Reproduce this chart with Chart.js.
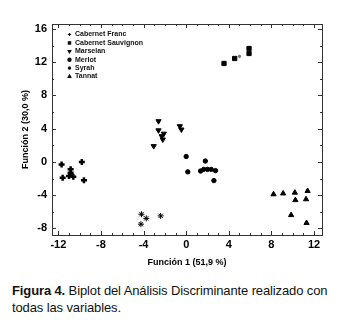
<!DOCTYPE html>
<html lang="es">
<head>
  <meta charset="UTF-8">
  <title>Biplot - Análisis Discriminante</title>
  <script src="https://cdn.jsdelivr.net/npm/chart.js"></script>
  <style>
    body { margin: 0; background: #fff; width: 339px; height: 330px; overflow: hidden; }
    .grafico { position: relative; width: 339px; height: 268px; }
    .leyenda-fig { font-family: "Liberation Sans Narrow", "Arial Narrow", Arial, sans-serif; font-size: 13px; letter-spacing: -0.12px; color: #111; margin: 14px 0 0 12px; line-height: 17px; }
  </style>
</head>
<body>
  <div class="grafico"><canvas id="biplot"></canvas></div>
  <div class="leyenda-fig"><b>Figura 4.</b> Biplot del Análisis Discriminante realizado con<br>todas las variables.</div>

  <script>
    const variedades = ['Cabernet Franc', 'Cabernet Sauvignon', 'Marselan', 'Merlot', 'Syrah', 'Tannat'];

    const cfX = [-11.7, -9.8, -10.85, -10.85, -11.6, -11.0, -10.6, -9.6];
    const cfY = [-0.3, 0.0, -0.9, -1.3, -1.9, -1.7, -1.8, -2.2];
    const csX = [3.55, 4.55, 5.9, 5.9];
    const csY = [11.85, 12.45, 13.65, 13.05];
    const maX = [-2.6, -2.6, -2.1, -2.3, -2.2, -3.05, -0.6, -0.45];
    const maY = [4.9, 3.8, 3.4, 3.1, 2.7, 1.9, 4.3, 3.9];
    const meX = [0.0, 1.8, 0.15, 1.35, 1.65, 2.0, 2.35, 2.75, 2.6];
    const meY = [0.65, 0.1, -1.2, -1.1, -0.9, -0.9, -0.9, -1.05, -2.25];
    const syX = [-4.2, -3.75, -2.4, -4.25, 5.0];
    const syY = [-6.3, -6.8, -6.5, -7.5, 12.7];
    const taX = [8.2, 9.1, 10.2, 11.4, 10.25, 11.25, 9.85, 11.3];
    const taY = [-3.9, -3.8, -3.7, -3.5, -4.6, -4.5, -6.4, -7.35];

    const ticksX = [-12, -8, -4, 0, 4, 8, 12];
    const ticksY = [-8, -4, 0, 4, 8, 12, 16];

    const pares = (xs, ys) => xs.map((x, i) => ({ x: x, y: ys[i] }));

    // estilo de marcador por variedad
    const marcas = [
      { style: 'cross', radius: 3, border: 2.5 },
      { style: 'rect', radius: 3, border: 1 },
      { style: 'triangle', radius: 3, border: 1, rotation: 180 },
      { style: 'circle', radius: 2.2, border: 1 },
      { style: 'star', radius: 3, border: 1 },
      { style: 'triangle', radius: 3, border: 1 }
    ];
    const series = [pares(cfX, cfY), pares(csX, csY), pares(maX, maY), pares(meX, meY), pares(syX, syY), pares(taX, taY)];

    // marco y marcas de graduación hacia adentro en los cuatro lados
    const marco = {
      id: 'marco',
      afterDraw(chart) {
        const { ctx, chartArea: a, scales } = chart;
        ctx.save();
        ctx.strokeStyle = '#333';
        ctx.lineWidth = 1;
        ctx.strokeRect(a.left + 0.5, a.top + 0.5, a.right - a.left, a.bottom - a.top);
        ctx.beginPath();
        for (let v = -12; v <= 12; v += 1) {
          const px = Math.round(scales.x.getPixelForValue(v)) + 0.5;
          const l = v % 4 === 0 ? 4 : 2;
          ctx.moveTo(px, a.bottom); ctx.lineTo(px, a.bottom - l);
          ctx.moveTo(px, a.top); ctx.lineTo(px, a.top + l);
        }
        for (let v = -8; v <= 16; v += 2) {
          const py = Math.round(scales.y.getPixelForValue(v)) + 0.5;
          const l = v % 4 === 0 ? 4 : 2;
          ctx.moveTo(a.left, py); ctx.lineTo(a.left + l, py);
          ctx.moveTo(a.right, py); ctx.lineTo(a.right - l, py);
        }
        ctx.stroke();

        // leyenda dentro del área
        ctx.font = 'bold 7px Arial, "Liberation Sans", sans-serif';
        ctx.textBaseline = 'middle';
        ctx.fillStyle = '#111';
        variedades.forEach((nombre, i) => {
          const y = 34.5 + i * 8.4;
          const m = marcas[i];
          ctx.strokeStyle = '#111';
          ctx.lineWidth = 1.2;
          Chart.helpers.drawPoint(ctx, { pointStyle: m.style, radius: 1.6, rotation: m.rotation || 0, borderWidth: 1.2 }, 69.5, y);
          ctx.fill();
          ctx.fillText(nombre, 75, y);
        });
        ctx.restore();
      }
    };

    new Chart(document.getElementById('biplot'), {
      type: 'scatter',
      data: {
        datasets: series.map((d, i) => ({
          label: variedades[i],
          data: d,
          pointStyle: marcas[i].style,
          // el punto aislado de Syrah se dibuja más pequeño
          pointRadius: c => (i === 4 && c.dataIndex === 4) ? 1.8 : marcas[i].radius,
          pointRotation: marcas[i].rotation || 0,
          borderWidth: marcas[i].border,
          backgroundColor: '#000',
          borderColor: c => (i === 4 && c.dataIndex === 4) ? '#777' : '#000'
        }))
      },
      plugins: [marco],
      options: {
        responsive: true,
        maintainAspectRatio: false,
        animation: false,
        layout: { padding: { top: 24, right: 17, left: 20, bottom: 0 } },
        plugins: { legend: { display: false }, tooltip: { enabled: false } },
        scales: {
          x: {
            type: 'linear', min: -12.6, max: 12.75,
            afterBuildTicks: s => { s.ticks = ticksX.map(v => ({ value: v })); },
            afterFit: s => { s.height = 33; },
            grid: { display: false, drawTicks: false },
            border: { display: false },
            ticks: { color: '#000', padding: 3, font: { family: 'Arial, "Liberation Sans"', size: 11, weight: 'bold' } },
            title: { display: true, text: 'Función 1 (51,9 %)', color: '#000', padding: { top: 2, bottom: 0 }, font: { family: 'Arial, "Liberation Sans"', size: 9, weight: 'bold' } }
          },
          y: {
            type: 'linear', min: -8.8, max: 16.6,
            afterBuildTicks: s => { s.ticks = ticksY.map(v => ({ value: v })); },
            afterFit: s => { s.width = 32; },
            grid: { display: false, drawTicks: false },
            border: { display: false },
            ticks: { color: '#000', padding: 5, font: { family: 'Arial, "Liberation Sans"', size: 11, weight: 'bold' } },
            title: { display: true, text: 'Función 2 (30,0 %)', color: '#000', padding: { top: 0, bottom: 2 }, font: { family: 'Arial, "Liberation Sans"', size: 9, weight: 'bold' } }
          }
        }
      }
    });
  </script>
</body>
</html>
